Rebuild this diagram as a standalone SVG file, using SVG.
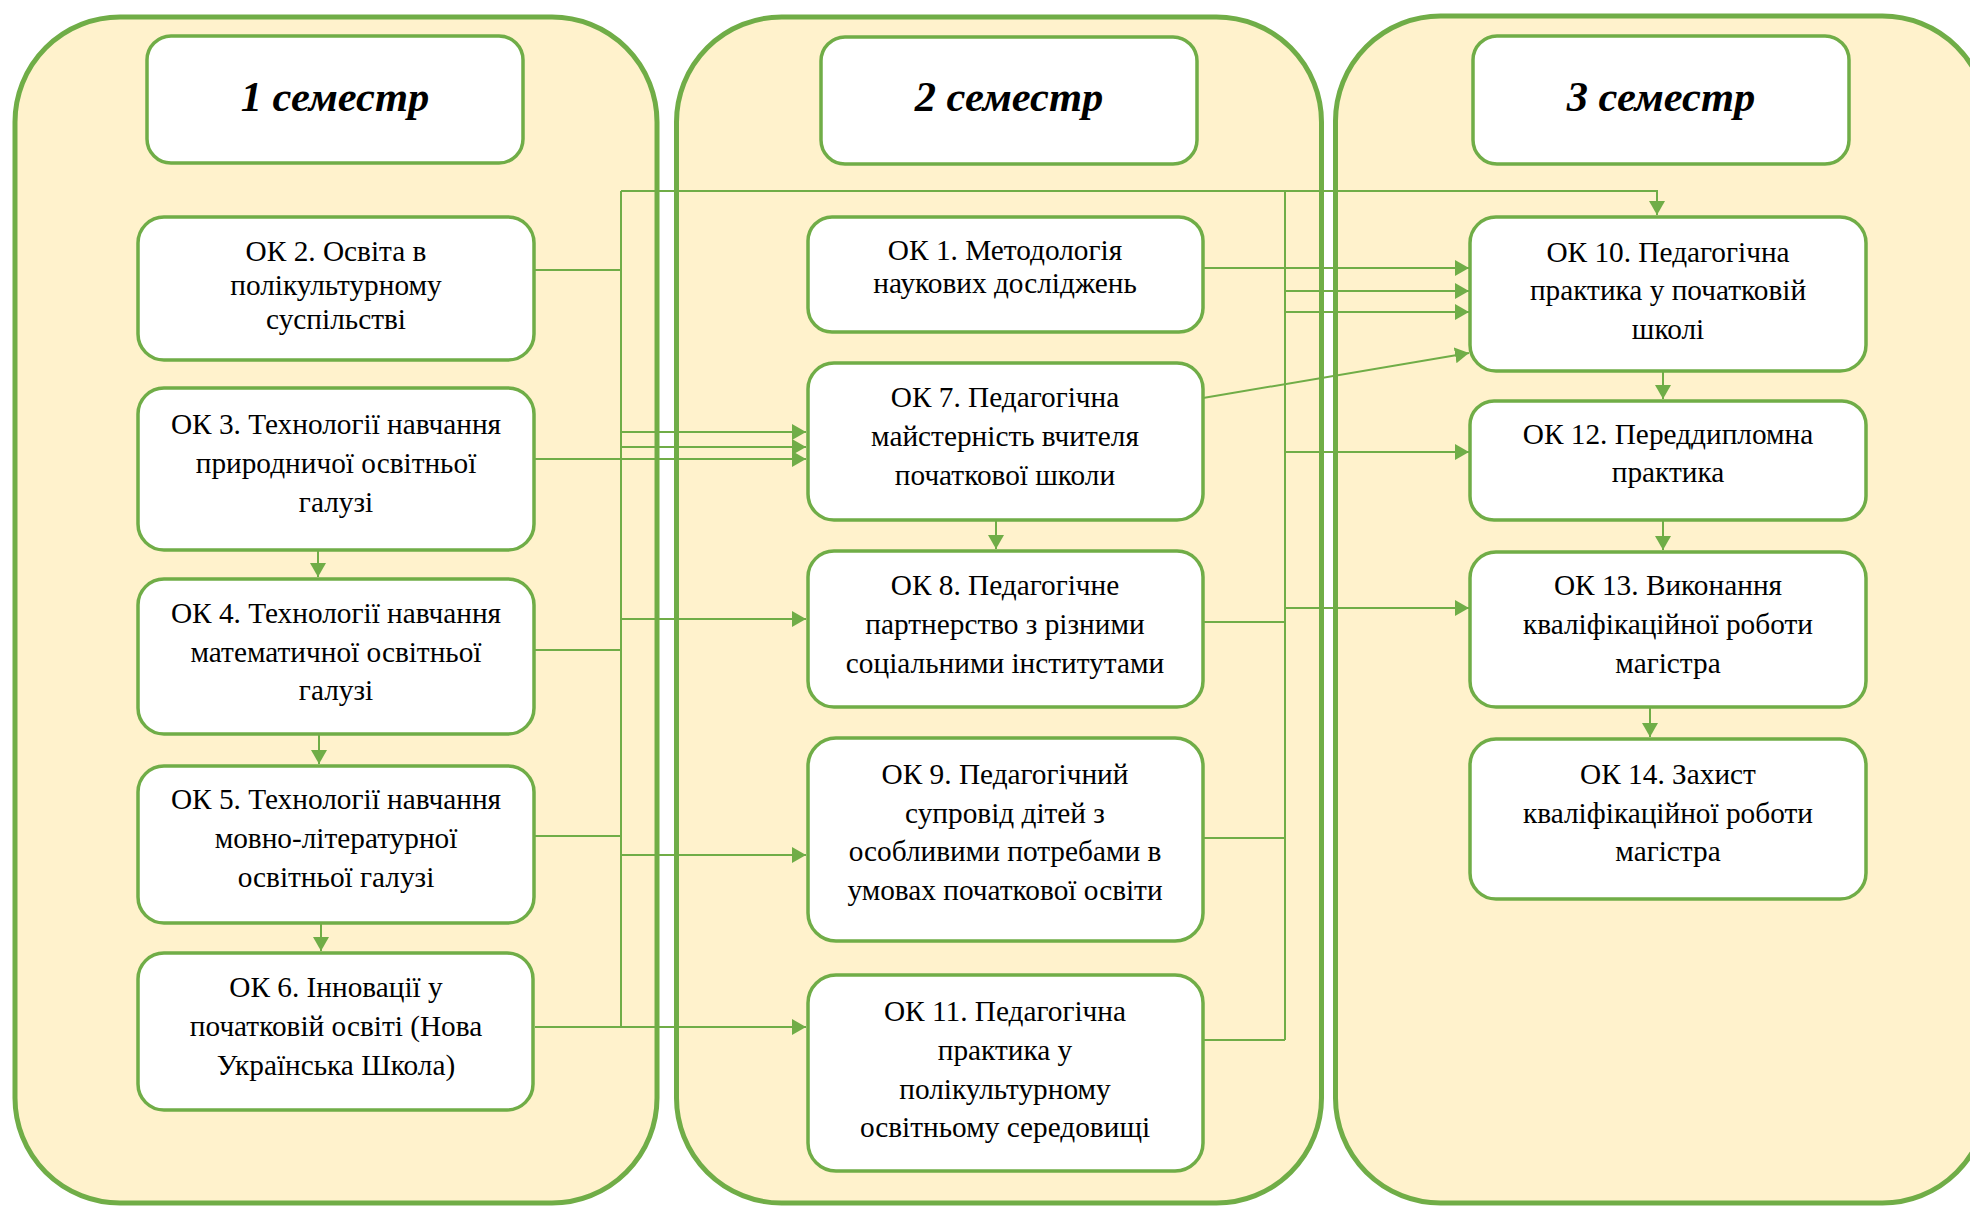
<svg xmlns="http://www.w3.org/2000/svg" width="1970" height="1206" viewBox="0 0 1970 1206">
<defs>
<marker id="arr" markerUnits="userSpaceOnUse" markerWidth="15" markerHeight="16" refX="14" refY="8" orient="auto">
<path d="M0,0 L14,8 L0,16 z" fill="#70AD47"/>
</marker>
<style>
.col{fill:#FFF2CC;stroke:#70AD47;stroke-width:5}
.hdr{fill:#FFFFFF;stroke:#70AD47;stroke-width:3.5}
.box{fill:#FFFFFF;stroke:#70AD47;stroke-width:3.5}
.ht{font-family:"Liberation Serif","Times New Roman",serif;font-size:42.5px;font-weight:bold;font-style:italic;fill:#000;text-anchor:middle}
.t{font-family:"Liberation Serif","Times New Roman",serif;font-size:29.3px;fill:#000;text-anchor:middle}
.c{fill:none;stroke:#70AD47;stroke-width:2}
.a{fill:none;stroke:#70AD47;stroke-width:2;marker-end:url(#arr)}
</style>
</defs>
<rect width="1970" height="1206" fill="#FFFFFF"/>

<g id="columns">
<rect class="col" x="15" y="17" width="642" height="1186" rx="105"/>
<rect class="col" x="676.5" y="17" width="645" height="1186" rx="105"/>
<rect class="col" x="1335.5" y="16" width="652" height="1187" rx="105"/>
</g>

<g id="connectors">
<path class="c" d="M535,270 H621"/>
<path class="c" d="M621,191 V1027"/>
<path class="a" d="M621,191 H1657 V215"/>
<path class="a" d="M621,432 H806"/>
<path class="a" d="M621,447 H806"/>
<path class="a" d="M535,459 H806"/>
<path class="c" d="M535,650 H621"/>
<path class="a" d="M621,619 H806"/>
<path class="c" d="M535,836 H621"/>
<path class="a" d="M621,855 H806"/>
<path class="a" d="M535,1027 H806"/>
<path class="c" d="M1285,191 V1040"/>
<path class="a" d="M1203,268 H1469"/>
<path class="a" d="M1285,291 H1469"/>
<path class="a" d="M1285,312 H1469"/>
<path class="a" d="M1203,398 L1469,353"/>
<path class="a" d="M1285,452 H1469"/>
<path class="c" d="M1203,622 H1285"/>
<path class="a" d="M1285,608 H1469"/>
<path class="c" d="M1203,838 H1285"/>
<path class="c" d="M1203,1040 H1285"/>
<path class="a" d="M318,550 V577"/>
<path class="a" d="M319,734 V764"/>
<path class="a" d="M321,923 V951"/>
<path class="a" d="M996,520 V549"/>
<path class="a" d="M1663,372 V399"/>
<path class="a" d="M1663,520 V550"/>
<path class="a" d="M1650,707 V737"/>
</g>

<g id="h1"><rect class="hdr" x="147" y="36" width="376" height="127" rx="24"/><text class="ht" x="335" y="111">1 семестр</text></g>
<g id="h2"><rect class="hdr" x="821" y="37" width="376" height="127" rx="24"/><text class="ht" x="1009" y="111">2 семестр</text></g>
<g id="h3"><rect class="hdr" x="1473" y="36" width="376" height="128" rx="24"/><text class="ht" x="1661" y="111">3 семестр</text></g>

<g id="ok2"><rect class="box" x="138" y="217" width="396" height="143" rx="26"/>
<text class="t" x="336" y="261">ОК 2. Освіта в</text><text class="t" x="336" y="295">полікультурному</text><text class="t" x="336" y="329">суспільстві</text></g>
<g id="ok3"><rect class="box" x="138" y="388" width="396" height="162" rx="26"/>
<text class="t" x="336" y="434">ОК 3. Технології навчання</text><text class="t" x="336" y="473">природничої освітньої</text><text class="t" x="336" y="512">галузі</text></g>
<g id="ok4"><rect class="box" x="138" y="579" width="396" height="155" rx="26"/>
<text class="t" x="336" y="623">ОК 4. Технології навчання</text><text class="t" x="336" y="662">математичної освітньої</text><text class="t" x="336" y="700">галузі</text></g>
<g id="ok5"><rect class="box" x="138" y="766" width="396" height="157" rx="26"/>
<text class="t" x="336" y="809">ОК 5. Технології навчання</text><text class="t" x="336" y="848">мовно-літературної</text><text class="t" x="336" y="887">освітньої галузі</text></g>
<g id="ok6"><rect class="box" x="138" y="953" width="395" height="157" rx="26"/>
<text class="t" x="336" y="997">ОК 6. Інновації у</text><text class="t" x="336" y="1036">початковій освіті (Нова</text><text class="t" x="336" y="1075">Українська Школа)</text></g>

<g id="ok1"><rect class="box" x="808" y="217" width="395" height="115" rx="24"/>
<text class="t" x="1005" y="260">ОК 1. Методологія</text><text class="t" x="1005" y="293">наукових досліджень</text></g>
<g id="ok7"><rect class="box" x="808" y="363" width="395" height="157" rx="26"/>
<text class="t" x="1005" y="407">ОК 7. Педагогічна</text><text class="t" x="1005" y="446">майстерність вчителя</text><text class="t" x="1005" y="485">початкової школи</text></g>
<g id="ok8"><rect class="box" x="808" y="551" width="395" height="156" rx="26"/>
<text class="t" x="1005" y="595">ОК 8. Педагогічне</text><text class="t" x="1005" y="634">партнерство з різними</text><text class="t" x="1005" y="673">соціальними інститутами</text></g>
<g id="ok9"><rect class="box" x="808" y="738" width="395" height="203" rx="28"/>
<text class="t" x="1005" y="784">ОК 9. Педагогічний</text><text class="t" x="1005" y="823">супровід дітей з</text><text class="t" x="1005" y="861">особливими потребами в</text><text class="t" x="1005" y="900">умовах початкової освіти</text></g>
<g id="ok11"><rect class="box" x="808" y="975" width="395" height="196" rx="28"/>
<text class="t" x="1005" y="1021">ОК 11. Педагогічна</text><text class="t" x="1005" y="1060">практика у</text><text class="t" x="1005" y="1099">полікультурному</text><text class="t" x="1005" y="1137">освітньому середовищі</text></g>

<g id="ok10"><rect class="box" x="1470" y="217" width="396" height="154" rx="26"/>
<text class="t" x="1668" y="262">ОК 10. Педагогічна</text><text class="t" x="1668" y="300">практика у початковій</text><text class="t" x="1668" y="339">школі</text></g>
<g id="ok12"><rect class="box" x="1470" y="401" width="396" height="119" rx="24"/>
<text class="t" x="1668" y="444">ОК 12. Переддипломна</text><text class="t" x="1668" y="482">практика</text></g>
<g id="ok13"><rect class="box" x="1470" y="552" width="396" height="155" rx="26"/>
<text class="t" x="1668" y="595">ОК 13. Виконання</text><text class="t" x="1668" y="634">кваліфікаційної роботи</text><text class="t" x="1668" y="673">магістра</text></g>
<g id="ok14"><rect class="box" x="1470" y="739" width="396" height="160" rx="26"/>
<text class="t" x="1668" y="784">ОК 14. Захист</text><text class="t" x="1668" y="823">кваліфікаційної роботи</text><text class="t" x="1668" y="861">магістра</text></g>
</svg>
